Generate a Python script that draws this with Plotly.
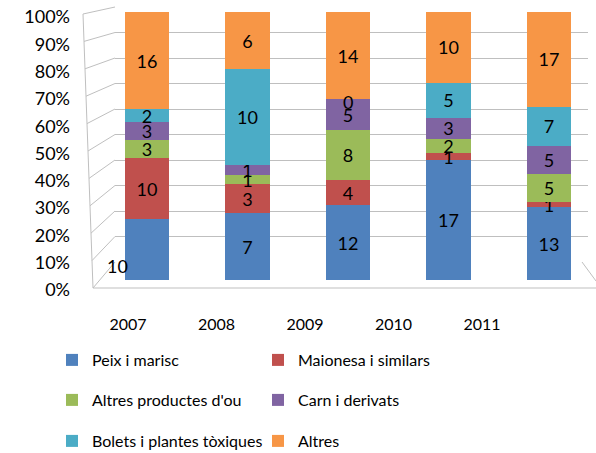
import plotly.graph_objects as go

W, H = 596, 453

years = ["2007", "2008", "2009", "2010", "2011"]
series_names = ["Peix i marisc", "Maionesa i similars", "Altres productes d'ou",
                "Carn i derivats", "Bolets i plantes tòxiques", "Altres"]
peix = [10, 7, 12, 17, 13]
maionesa = [10, 3, 4, 1, 1]
altres_ou = [3, 1, 8, 2, 5]
carn = [3, 1, 5, 3, 5]
bolets = [2, 10, 0, 5, 7]
altres = [16, 6, 14, 10, 17]
series_values = [peix, maionesa, altres_ou, carn, bolets, altres]
colors = ["#4F81BD", "#C0504D", "#9BBB59", "#8064A2", "#4BACC6", "#F79646"]
tick_vals = [0, 10, 20, 30, 40, 50, 60, 70, 80, 90, 100]
tick_text = [f"{v}%" for v in tick_vals]

FONT = "Lato"
LBL = 18

def fx(px):
    return px / W

def fy(px):
    return 1 - px / H

fig = go.Figure()

# grid (back wall) subplot placeholder
fig.add_trace(go.Scatter(x=[], y=[], xaxis="x", yaxis="y", showlegend=False, hoverinfo="skip"))

legends = ["legend", "legend", "legend2", "legend2", "legend3", "legend3"]
for i, (name, vals, col) in enumerate(zip(series_names, series_values, colors)):
    txt = [str(v) for v in vals]
    if i == 0:
        txt[0] = ""
    fig.add_trace(go.Bar(
        x=years, y=vals, name=name, marker=dict(color=col, line=dict(width=0)),
        text=txt, textposition="inside", insidetextanchor="middle", textangle=0,
        textfont=dict(family=FONT, size=LBL, color="black"),
        xaxis="x", yaxis="y2", legend=legends[i], width=0.44,
    ))

# category label + y label placeholder
fig.add_trace(go.Scatter(x=years, y=[None] * len(years), xaxis="x2", yaxis="y3",
                         mode="markers", showlegend=False, hoverinfo="skip"))

# bar-axis geometry
x0px, step = 147, 100.5
xl, xr = 115, 588
bar_bot, bar_top = 280, 12
lab0, labstep = 128, 88.5

fig.update_layout(
    width=W, height=H, margin=dict(l=0, r=0, t=0, b=0, autoexpand=False),
    paper_bgcolor="white", plot_bgcolor="rgba(0,0,0,0)",
    barmode="stack", barnorm="percent",
    uniformtext=dict(mode="show", minsize=LBL),
    font=dict(family=FONT, size=16, color="black"),
    xaxis=dict(domain=[fx(xl), fx(xr)], range=[(xl - x0px) / step, (xr - x0px) / step],
               type="category", showticklabels=False, showgrid=False, zeroline=False,
               showline=False, anchor="y", fixedrange=True),
    yaxis=dict(domain=[fy(262), fy(7)], range=[0, 100], tickvals=tick_vals,
               showgrid=True, gridcolor="#BFBFBF", gridwidth=1, showticklabels=False,
               zeroline=False, showline=False, anchor="x"),
    yaxis2=dict(domain=[fy(bar_bot), fy(bar_top)], range=[0, 100], showgrid=False,
                showticklabels=False, zeroline=False, showline=False, anchor="x"),
    xaxis2=dict(domain=[0, 1], range=[-lab0 / labstep, (W - lab0) / labstep],
                type="category", anchor="free", position=fy(313), showgrid=False,
                zeroline=False, showline=False, ticks="",
                tickfont=dict(family=FONT, size=16, color="black")),
    yaxis3=dict(domain=[fy(290), fy(17)], range=[0, 100], tickvals=tick_vals,
                ticktext=tick_text, anchor="free", position=fx(70), side="left",
                showgrid=False, zeroline=False, showline=False, ticks="",
                tickfont=dict(family=FONT, size=18, color="black")),
    showlegend=True,
)

leg_common = dict(orientation="h", entrywidth=161, entrywidthmode="pixels",
                  xanchor="left", yanchor="middle", itemwidth=30,
                  font=dict(family=FONT, size=16, color="black"),
                  bgcolor="rgba(0,0,0,0)", traceorder="normal")
fig.update_layout(
    legend=dict(x=fx(52), y=fy(360), **leg_common),
    legend2=dict(x=fx(52), y=fy(400), **leg_common),
    legend3=dict(x=fx(52), y=fy(441), **leg_common),
)

# 3D wall decoration: left side wall and floor edges
shapes = []
for v in tick_vals:
    xf = 93 - 10 * v / 100
    yf = 288 - (288 - 14) * v / 100
    yb = 262 - (262 - 7) * v / 100
    shapes.append(dict(type="line", xref="paper", yref="paper",
                       x0=fx(xf), y0=fy(yf), x1=fx(xl), y1=fy(yb),
                       line=dict(color="#BFBFBF", width=1), layer="below"))
shapes.append(dict(type="line", xref="paper", yref="paper", x0=fx(93), y0=fy(288),
                   x1=fx(83), y1=fy(14), line=dict(color="#BFBFBF", width=1), layer="below"))
shapes.append(dict(type="line", xref="paper", yref="paper", x0=fx(93), y0=fy(288),
                   x1=fx(596), y1=fy(288), line=dict(color="#BFBFBF", width=1), layer="below"))
shapes.append(dict(type="line", xref="paper", yref="paper", x0=fx(xr - 6), y0=fy(262),
                   x1=fx(596), y1=fy(281), line=dict(color="#BFBFBF", width=1), layer="below"))
fig.update_layout(shapes=shapes)

def bar_paper_x(j):
    return fx(x0px + j * step)

def bar_paper_y(pct):
    return fy(bar_bot) + (fy(bar_top) - fy(bar_bot)) * pct / 100

# first Peix label sits outside the 2007 bar in the reference
fig.add_annotation(x=bar_paper_x(0), y=bar_paper_y(0), xref="paper", yref="paper",
                   text=str(peix[0]), showarrow=False, xanchor="right", yanchor="bottom",
                   xshift=-17, yshift=1, font=dict(family=FONT, size=LBL, color="black"))

# zero-height segments still show their "0" label at the segment position
for j, yr in enumerate(years):
    total = sum(s[j] for s in series_values)
    for k, vals in enumerate(series_values):
        if vals[j] == 0:
            below = sum(series_values[m][j] for m in range(k))
            fig.add_annotation(x=bar_paper_x(j), y=bar_paper_y(100 * below / total),
                               xref="paper", yref="paper", text="0", showarrow=False,
                               yanchor="middle", yshift=-3,
                               font=dict(family=FONT, size=LBL, color="black"))

fig.write_html("out.html", config={"displayModeBar": False},
               post_script="document.body.style.margin='0';")
